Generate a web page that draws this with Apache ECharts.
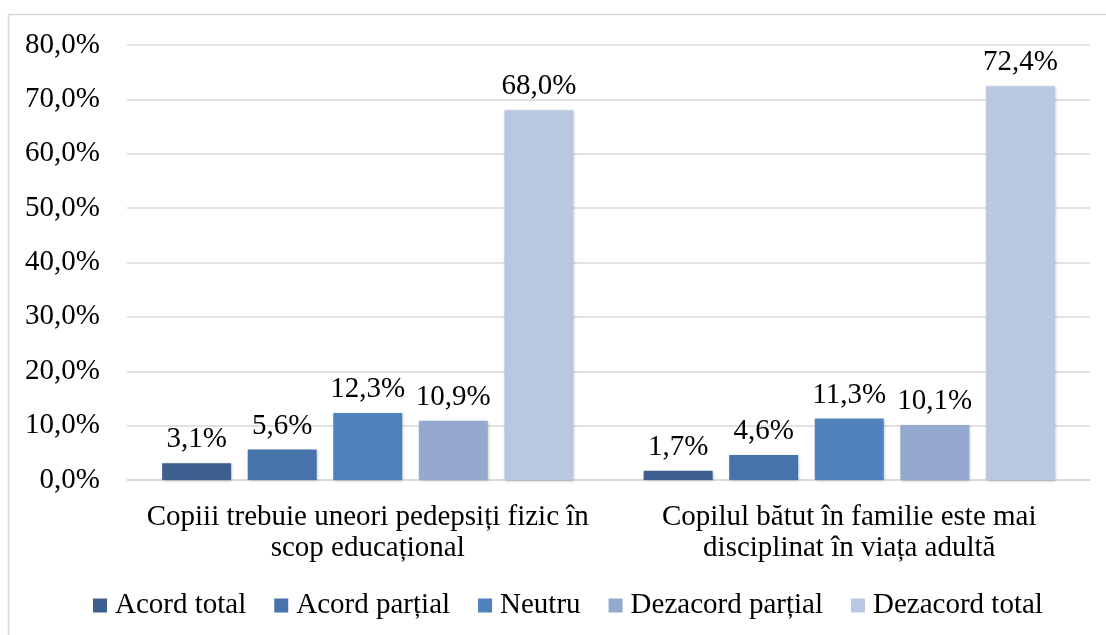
<!DOCTYPE html>
<html>
<head>
<meta charset="utf-8">
<script src="https://cdn.jsdelivr.net/npm/echarts@6/dist/echarts.min.js"></script>
<style>
html,body{margin:0;padding:0;background:#fff;}
#chart{width:1106px;height:635px;}
</style>
</head>
<body>
<div id="chart"></div>
<script>
var categories = ['Copiii trebuie uneori pedepsiți fizic în\nscop educațional', 'Copilul bătut în familie este mai\ndisciplinat în viața adultă'];
var seriesNames = ['Acord total', 'Acord parțial', 'Neutru', 'Dezacord parțial', 'Dezacord total'];
var acordTotal = [3.1, 1.7];
var acordPartial = [5.6, 4.6];
var neutru = [12.3, 11.3];
var dezacordPartial = [10.9, 10.1];
var dezacordTotal = [68.0, 72.4];
var colors = ['#3c5f8e', '#4573aa', '#4f81bd', '#95a9cf', '#b9c7e1'];

var values = [acordTotal, acordPartial, neutru, dezacordPartial, dezacordTotal];
var FONT = '"Liberation Serif", "Times New Roman", serif';
var FS = 29;

function fmt(v) { return v.toFixed(1).replace('.', ',') + '%'; }

var chart = echarts.init(document.getElementById('chart'));
chart.setOption({
  animation: false,
  textStyle: { fontFamily: FONT },
  graphic: [{
    type: 'rect',
    shape: { x: 8.5, y: 14.5, width: 1120, height: 640 },
    style: { fill: 'none', stroke: '#d9d9d9', lineWidth: 1.5 },
    silent: true
  }],
  grid: { left: 127, right: 16, top: 45, bottom: 155 },
  legend: {
    bottom: 10,
    left: 88,
    itemWidth: 14,
    itemHeight: 14,
    itemGap: 28,
    icon: 'rect',
    textStyle: { fontFamily: FONT, fontSize: FS, color: '#000', padding: [0, 0, 0, 3] },
    data: seriesNames
  },
  xAxis: {
    type: 'category',
    data: categories,
    axisLine: { lineStyle: { color: '#d9d9d9', width: 1.5 } },
    axisTick: { show: false },
    axisLabel: { fontFamily: FONT, fontSize: FS, color: '#000', margin: 22, lineHeight: 31, interval: 0 }
  },
  yAxis: {
    type: 'value',
    min: 0, max: 80, interval: 10,
    axisLine: { show: false },
    axisTick: { show: false },
    splitLine: { lineStyle: { color: '#d9d9d9', width: 1.5 } },
    axisLabel: { fontFamily: FONT, fontSize: FS, color: '#000', margin: 27, formatter: function (v) { return fmt(v); } }
  },
  series: seriesNames.map(function (n, i) {
    return {
      name: n,
      type: 'bar',
      data: values[i],
      barWidth: 69,
      barGap: '24%',
      itemStyle: { color: colors[i], shadowColor: 'rgba(0,0,0,0.25)', shadowBlur: 3, shadowOffsetX: 1, shadowOffsetY: 1 },
      label: { show: true, position: 'top', distance: 9, fontFamily: FONT, fontSize: FS, color: '#000', formatter: function (p) { return fmt(p.value); } }
    };
  })
});
</script>
</body>
</html>
